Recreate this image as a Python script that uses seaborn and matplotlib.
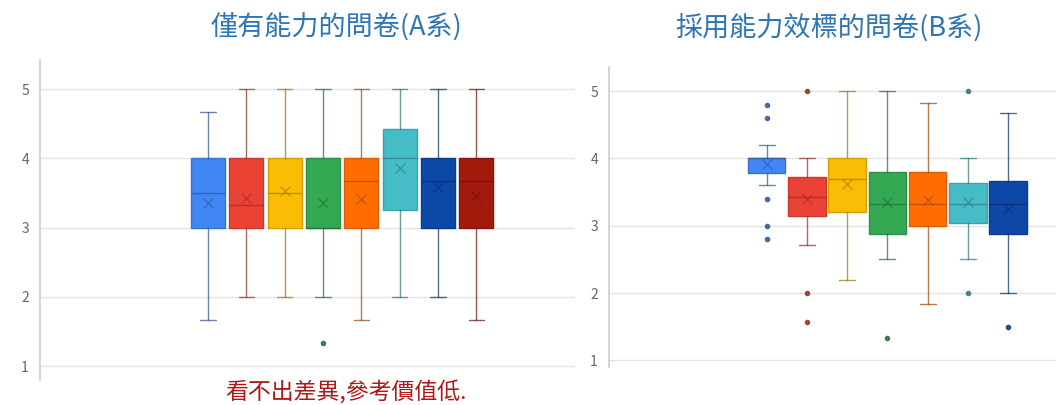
import numpy as np
import matplotlib
matplotlib.use("Agg")
import matplotlib.pyplot as plt
import matplotlib.colors as mcolors
import seaborn as sns

# box colours (Google Sheets style palette)
colors_a = ["#4285F4", "#EA4335", "#FBBC04", "#34A853", "#FF6D01", "#46BDC6", "#0D47A8", "#A11A0C"]
colors_b = ["#4285F4", "#EA4335", "#FBBC04", "#34A853", "#FF6D01", "#46BDC6", "#0D47A8"]

# A 系 summary stats
a_q1 = [3.0, 3.0, 3.0, 3.0, 3.0, 3.25, 3.0, 3.0]
a_med = [3.5, 3.33, 3.5, 3.0, 3.67, 4.0, 3.67, 3.67]
a_q3 = [4.0, 4.0, 4.0, 4.0, 4.0, 4.42, 4.0, 4.0]
a_lo = [1.67, 2.0, 2.0, 2.0, 1.67, 2.0, 2.0, 1.67]
a_hi = [4.67, 5.0, 5.0, 5.0, 5.0, 5.0, 5.0, 5.0]
a_mean = [3.36, 3.43, 3.53, 3.35, 3.41, 3.86, 3.58, 3.45]
a_fliers = [[], [], [], [1.33], [], [], [], []]

# B 系 summary stats
b_q1 = [3.78, 3.15, 3.2, 2.87, 3.0, 3.04, 2.87]
b_med = [4.0, 3.42, 3.7, 3.33, 3.33, 3.33, 3.33]
b_q3 = [4.0, 3.72, 4.0, 3.8, 3.8, 3.63, 3.67]
b_lo = [3.6, 2.72, 2.2, 2.5, 1.83, 2.5, 2.0]
b_hi = [4.2, 4.0, 5.0, 5.0, 4.83, 4.0, 4.67]
b_mean = [3.92, 3.4, 3.62, 3.35, 3.38, 3.35, 3.25]
b_fliers = [[4.8, 4.6, 3.4, 3.0, 2.8], [5.0, 2.0, 1.57], [], [1.33], [], [5.0, 2.0], [1.5]]

title_a = "僅有能力的問卷(A系)"
title_b = "採用能力效標的問卷(B系)"
note = "看不出差異,參考價值低."
yticks = [1, 2, 3, 4, 5]

sns.set_theme(style="whitegrid")
plt.rcParams['font.family'] = ['Noto Sans CJK TC', 'DejaVu Sans']


def shade(c, f):
    r, g, b = mcolors.to_rgb(c)
    return (r * f, g * f, b * f)


def draw(ax, q1, med, q3, lo, hi, mean, fliers, cols, width):
    stats = []
    for i in range(len(q1)):
        stats.append(dict(q1=q1[i], med=med[i], q3=q3[i], whislo=lo[i], whishi=hi[i],
                          mean=mean[i], fliers=fliers[i], label=str(i + 1)))
    pos = np.arange(1, len(q1) + 1)
    art = ax.bxp(stats, positions=pos, widths=width, patch_artist=True,
                 showmeans=True, showfliers=True)
    for i, c in enumerate(cols):
        dark = shade(c, 0.6)
        art['boxes'][i].set(facecolor=c, edgecolor=shade(c, 0.85), linewidth=1)
        art['medians'][i].set(color=dark, linewidth=1, alpha=0.6)
        art['means'][i].set(marker='x', markeredgecolor=dark, markersize=7,
                            markeredgewidth=0.9, alpha=0.55)
        for w in art['whiskers'][2 * i:2 * i + 2] + art['caps'][2 * i:2 * i + 2]:
            w.set(color=dark, linewidth=1, alpha=0.7)
        art['caps'][2 * i].set_xdata([i + 1 - 0.2, i + 1 + 0.2])
        art['caps'][2 * i + 1].set_xdata([i + 1 - 0.2, i + 1 + 0.2])
        art['fliers'][i].set(marker='o', markerfacecolor=dark, markeredgecolor=dark,
                             markersize=3, alpha=0.8)
    ax.set_yticks(yticks)
    ax.set_xticks([])
    ax.grid(axis='y', color='#e3e3e3', linewidth=1)
    ax.grid(axis='x', visible=False)
    ax.tick_params(axis='y', colors='#666666', labelsize=10, length=0, pad=8)
    for s in ['top', 'right', 'bottom']:
        ax.spines[s].set_visible(False)
    ax.spines['left'].set_color('#d0d0d0')
    ax.set_facecolor('white')


fig = plt.figure(figsize=(10.56, 4.05), dpi=100)
fig.patch.set_facecolor('white')

ax1 = fig.add_axes([40 / 1056, 25 / 405, 535 / 1056, 320 / 405])
draw(ax1, a_q1, a_med, a_q3, a_lo, a_hi, a_mean, a_fliers, colors_a, 0.89)
ax1.set_xlim(-3.39, 10.58)
ax1.set_ylim(0.8, 5.42)

ax2 = fig.add_axes([609 / 1056, 38 / 405, 447 / 1056, 300 / 405])
draw(ax2, b_q1, b_med, b_q3, b_lo, b_hi, b_mean, b_fliers, colors_b, 0.93)
ax2.set_xlim(-2.92, 8.19)
ax2.set_ylim(0.9, 5.36)

fig.text(336 / 1056, 1 - 28 / 405, title_a, ha='center', va='center',
         fontsize=19.5, color='#2E75B6')
fig.text(829 / 1056, 1 - 28 / 405, title_b, ha='center', va='center',
         fontsize=19.5, color='#2E75B6')
fig.text(346 / 1056, 1 - 392 / 405, note, ha='center', va='center',
         fontsize=16.5, color='#B01818')

fig.savefig('out.png', dpi=100, facecolor='white')
